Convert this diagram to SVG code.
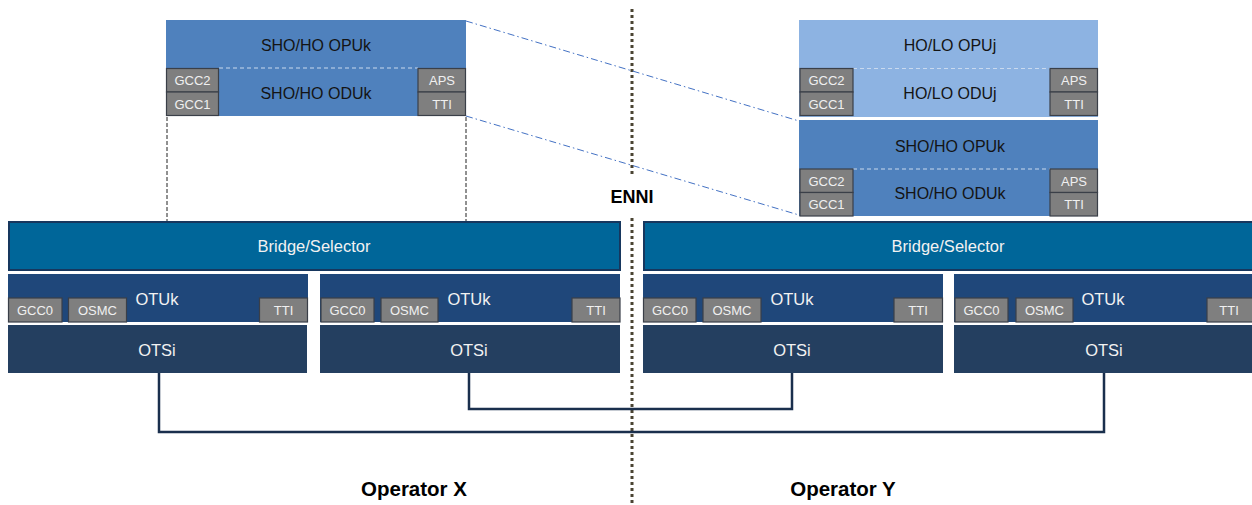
<svg xmlns="http://www.w3.org/2000/svg" width="1252" height="505" viewBox="0 0 1252 505">
<defs>
<style>
text{font-family:"Liberation Sans",Arial,sans-serif;text-anchor:middle;dominant-baseline:central}
.opu{fill:#4f81bd}
.lo{fill:#8db3e2}
.t{font-size:16px;fill:#141414}
.sep{stroke:#c9d9ee;stroke-width:1.2;stroke-dasharray:4 3}
.g{fill:#7f7f7f;stroke:#3a3f48;stroke-width:1.2}
.gt{font-size:13px;fill:#f0f0f0}
.br{fill:#006699;stroke:#17375e;stroke-width:2}
.otu{fill:#1f477a}
.ots{fill:#243f60}
.w{font-size:16.5px;fill:#f2f2f2}
.lbl{font-size:20.5px;font-weight:bold;fill:#000}
.link{fill:none;stroke:#1a2f4d;stroke-width:2.5}
.dd{fill:none;stroke:#4472c4;stroke-width:1;stroke-dasharray:7 3 1.5 3}
.bd{fill:none;stroke:#222;stroke-width:1;stroke-dasharray:4 2}
.enni{fill:none;stroke:#4a4433;stroke-width:3;stroke-dasharray:3 3}
</style>
</defs>

<g id="connectors">
<line class="enni" x1="632" y1="9" x2="632" y2="176"/>
<line class="enni" x1="632" y1="218" x2="632" y2="505"/>
<line class="dd" x1="466" y1="21" x2="799" y2="121"/>
<line class="dd" x1="466" y1="116" x2="799" y2="215"/>
<line class="bd" x1="167" y1="117" x2="167" y2="221"/>
<line class="bd" x1="466" y1="117" x2="466" y2="221"/>
<polyline class="link" points="159,373 159,432 1104,432 1104,373"/>
<polyline class="link" points="469,373 469,409 792,409 792,373"/>
</g>

<g id="left-odu">
<rect class="opu" x="166" y="20" width="300" height="96"/>
<line class="sep" x1="219" y1="68" x2="418" y2="68"/>
<text class="t" x="316" y="45">SHO/HO OPUk</text>
<text class="t" x="316" y="93">SHO/HO ODUk</text>
<rect class="g" x="166.5" y="68.5" width="52" height="23.5"/>
<text class="gt" x="192.5" y="80.5">GCC2</text>
<rect class="g" x="166.5" y="92" width="52" height="23.5"/>
<text class="gt" x="192.5" y="104">GCC1</text>
<rect class="g" x="418" y="68.5" width="47.5" height="23.5"/>
<text class="gt" x="442" y="80.5">APS</text>
<rect class="g" x="418" y="92" width="47.5" height="23.5"/>
<text class="gt" x="442" y="104">TTI</text>
</g>

<g id="right-oduj">
<rect class="lo" x="799" y="20" width="299" height="97"/>
<line class="sep" x1="853" y1="68.5" x2="1050" y2="68.5"/>
<text class="t" x="950" y="45">HO/LO OPUj</text>
<text class="t" x="950" y="93">HO/LO ODUj</text>
<rect class="g" x="800" y="68.5" width="53" height="23.5"/>
<text class="gt" x="826.5" y="80.5">GCC2</text>
<rect class="g" x="800" y="92" width="53" height="23.5"/>
<text class="gt" x="826.5" y="104">GCC1</text>
<rect class="g" x="1050" y="68.5" width="47.5" height="23.5"/>
<text class="gt" x="1074" y="80.5">APS</text>
<rect class="g" x="1050" y="92" width="47.5" height="23.5"/>
<text class="gt" x="1074" y="104">TTI</text>
</g>

<g id="right-oduk">
<rect class="opu" x="799" y="120" width="299" height="96"/>
<line class="sep" x1="853" y1="169" x2="1050" y2="169"/>
<text class="t" x="950" y="146">SHO/HO OPUk</text>
<text class="t" x="950" y="193">SHO/HO ODUk</text>
<rect class="g" x="800" y="169" width="53" height="23.5"/>
<text class="gt" x="826.5" y="181">GCC2</text>
<rect class="g" x="800" y="192.5" width="53" height="23.5"/>
<text class="gt" x="826.5" y="204.5">GCC1</text>
<rect class="g" x="1050" y="169" width="47.5" height="23.5"/>
<text class="gt" x="1074" y="181">APS</text>
<rect class="g" x="1050" y="192.5" width="47.5" height="23.5"/>
<text class="gt" x="1074" y="204.5">TTI</text>
</g>

<g id="bridge-x">
<rect class="br" x="9" y="222" width="611" height="48"/>
<text class="w" x="314" y="246">Bridge/Selector</text>
</g>
<g id="bridge-y">
<rect class="br" x="644" y="222" width="610" height="48"/>
<text class="w" x="948" y="246">Bridge/Selector</text>
</g>

<g id="otuk-1">
<rect class="otu" x="8" y="274" width="300" height="48"/>
<text class="w" x="157" y="299">OTUk</text>
<rect class="g" x="8.5" y="298" width="53.5" height="24"/>
<text class="gt" x="35" y="310.5">GCC0</text>
<rect class="g" x="68.5" y="298" width="58" height="24"/>
<text class="gt" x="97.5" y="310.5">OSMC</text>
<rect class="g" x="259.5" y="298" width="48" height="24"/>
<text class="gt" x="283.5" y="310.5">TTI</text>
</g>
<g id="otsi-1">
<rect class="ots" x="8" y="325" width="299" height="48"/>
<text class="w" x="157" y="350">OTSi</text>
</g>

<g id="otuk-2">
<rect class="otu" x="320" y="274" width="300" height="48"/>
<text class="w" x="469" y="299">OTUk</text>
<rect class="g" x="321" y="298" width="53" height="24"/>
<text class="gt" x="347.5" y="310.5">GCC0</text>
<rect class="g" x="381" y="298" width="57" height="24"/>
<text class="gt" x="409.5" y="310.5">OSMC</text>
<rect class="g" x="572" y="298" width="48" height="24"/>
<text class="gt" x="596" y="310.5">TTI</text>
</g>
<g id="otsi-2">
<rect class="ots" x="320" y="325" width="300" height="48"/>
<text class="w" x="469" y="350">OTSi</text>
</g>

<g id="otuk-3">
<rect class="otu" x="643" y="274" width="300" height="48"/>
<text class="w" x="792" y="299">OTUk</text>
<rect class="g" x="643.5" y="298" width="52.5" height="24"/>
<text class="gt" x="670" y="310.5">GCC0</text>
<rect class="g" x="703" y="298" width="58" height="24"/>
<text class="gt" x="732" y="310.5">OSMC</text>
<rect class="g" x="894" y="298" width="48.5" height="24"/>
<text class="gt" x="918" y="310.5">TTI</text>
</g>
<g id="otsi-3">
<rect class="ots" x="643" y="325" width="300" height="48"/>
<text class="w" x="792" y="350">OTSi</text>
</g>

<g id="otuk-4">
<rect class="otu" x="954" y="274" width="300" height="48"/>
<text class="w" x="1103" y="299">OTUk</text>
<rect class="g" x="955" y="298" width="53" height="24"/>
<text class="gt" x="981.5" y="310.5">GCC0</text>
<rect class="g" x="1016" y="298" width="57" height="24"/>
<text class="gt" x="1044.5" y="310.5">OSMC</text>
<rect class="g" x="1207" y="298" width="48" height="24"/>
<text class="gt" x="1229" y="310.5">TTI</text>
</g>
<g id="otsi-4">
<rect class="ots" x="954" y="325" width="300" height="48"/>
<text class="w" x="1104" y="350">OTSi</text>
</g>

<g id="labels">
<text class="lbl" x="632" y="197" style="font-size:18px">ENNI</text>
<text class="lbl" x="414" y="488">Operator X</text>
<text class="lbl" x="843" y="488">Operator Y</text>
</g>
</svg>
